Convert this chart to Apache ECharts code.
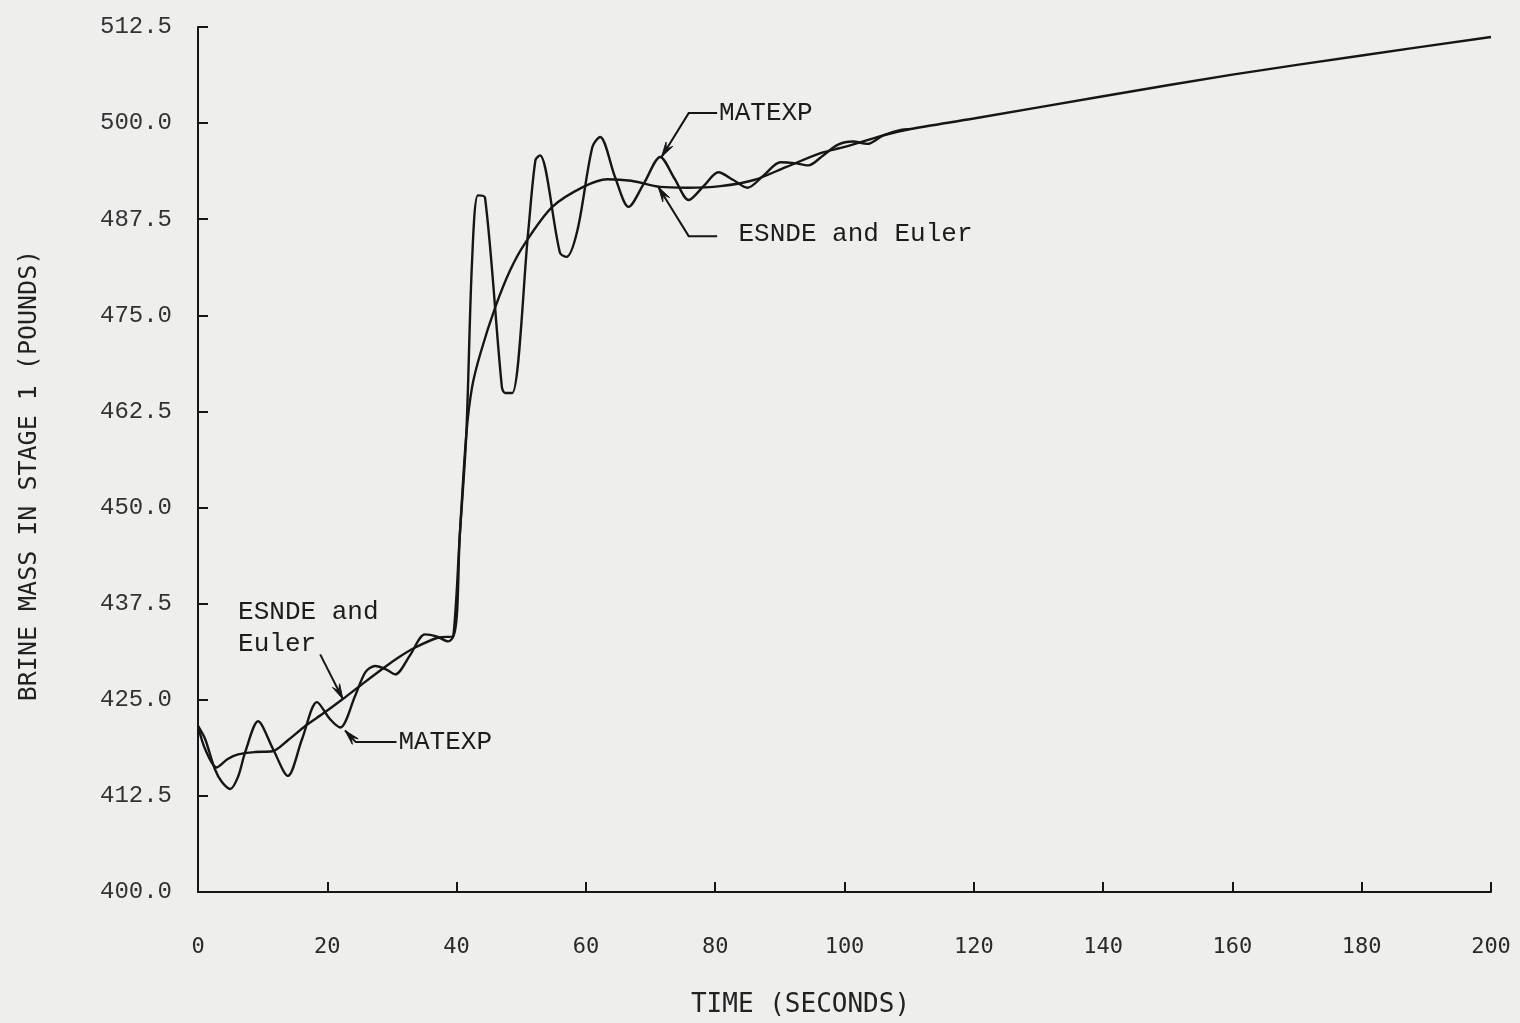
<!DOCTYPE html>
<html>
<head>
<meta charset="utf-8">
<title>Brine mass in stage 1</title>
<script src="https://cdn.jsdelivr.net/npm/echarts@6/dist/echarts.min.js"></script>
<style>
  html, body { margin: 0; padding: 0; background: #eeeeec; }
  #chart { width: 1520px; height: 1023px; }
</style>
</head>
<body>
<div id="chart"></div>
<script>
// ESNDE and Euler solution (smooth response)
const esndeTime = [0, 1.1, 2.9, 4.6, 6.2, 8.8, 11.5, 14, 16.6, 19.5, 22.4, 25.5, 28.5, 31, 33.6, 37.2, 39.5,
  40.5, 41.5, 42.4, 43.7, 46, 48.3, 50.6, 54.8, 59.6, 63.3, 67, 71.5, 75.7, 80.8, 86, 91, 96.3, 100, 106, 110,
  120, 140, 160, 180, 200];
const esndeMass = [421.6, 418.6, 416.2, 417.3, 417.9, 418.2, 418.3, 419.8, 421.6, 423.3, 425.1, 427.1, 429.0, 430.5, 431.8, 433.1, 433.3,
  446.5, 459.5, 465.7, 470.1, 476.1, 480.9, 484.4, 489.1, 491.7, 492.7, 492.5, 491.7, 491.6, 491.8, 492.6, 494.3, 496.1, 496.9, 498.4, 499.2,
  500.6, 503.5, 506.3, 508.8, 511.2];

// MATEXP solution (oscillating response)
const matexpTime = [0, 1.1, 2.6, 3.7, 5.0, 6.2, 7.3, 9.3, 11.6, 13.9, 16.1, 18.4, 20.4, 22.0, 24.3, 25.9, 27.4, 29, 30.5,
  32.8, 35.1, 37, 38.7, 39.5, 40.5, 41.5, 42.4, 43.3, 44.4, 47.0, 47.5, 48.6, 51.1, 52.2, 52.9, 56.0, 57.0, 58.7, 61.0,
  62.2, 64.5, 66.6, 69, 71.5, 73.7, 75.9, 78.2, 80.5, 82.8, 85.0, 87.5, 90.1, 92.2, 94.4, 96.7, 99, 101.3, 103.5, 106, 108.7, 110];
const matexpMass = [421.6, 419.9, 416.0, 414.3, 413.4, 415.0, 418.2, 422.2, 418.6, 415.1, 419.9, 424.7, 422.5, 421.4, 425.5, 428.6, 429.4, 429.0, 428.3,
  430.8, 433.5, 433.2, 432.6, 433.3, 446.5, 459.5, 482.2, 490.6, 490.3, 465.7, 464.9, 464.9, 486.1, 495.2, 495.8, 483.1, 482.6, 486.1, 496.9,
  498.2, 493.0, 489.1, 492.2, 495.6, 492.8, 490.0, 491.8, 493.6, 492.6, 491.6, 493.2, 494.9, 494.8, 494.5, 495.8, 497.2, 497.6, 497.3, 498.4, 499.1, 499.2];

// Axis ranges
const timeMin = 0, timeMax = 200, timeStep = 20;
const massMin = 400, massMax = 512.5, massStep = 12.5;

// Callouts: text position, leader path and arrow tip, all in (time, mass)
const callouts = [
  { lines: ['ESNDE and', 'Euler'], at: [6.2, 436.4], path: [[18.9, 430.9], [22.4, 425.1]] },
  { lines: ['MATEXP'], at: [31.0, 419.5], path: [[30.7, 419.5], [24.4, 419.5], [22.75, 421.0]] },
  { lines: ['MATEXP'], at: [80.6, 501.3], path: [[80.3, 501.3], [75.9, 501.3], [71.7, 495.6]] },
  { lines: ['ESNDE and Euler'], at: [83.6, 485.6], path: [[80.3, 485.3], [75.9, 485.3], [71.2, 491.7]] }
];

const ink = '#161616';
const mono = '"Liberation Mono", "DejaVu Sans Mono", monospace';
const narrow = '"DejaVu Sans Mono", "Liberation Mono", monospace';

const zip = (xs, ys) => xs.map((x, i) => [x, ys[i]]);

const chart = echarts.init(document.getElementById('chart'), null, { renderer: 'canvas' });

chart.setOption({
  backgroundColor: '#eeeeec',
  animation: false,
  grid: { left: 198, right: 29, top: 27, bottom: 130, containLabel: false },
  xAxis: {
    type: 'value',
    min: timeMin, max: timeMax, interval: timeStep,
    name: 'TIME (SECONDS)',
    nameLocation: 'middle',
    nameGap: 100,
    nameTextStyle: { fontFamily: narrow, fontSize: 26, color: '#222', padding: [0, 88, 0, 0] },
    axisLine: { show: true, onZero: false, lineStyle: { color: ink, width: 2 } },
    axisTick: { show: true, inside: true, length: 10, lineStyle: { color: ink, width: 2 } },
    axisLabel: { margin: 44, fontFamily: narrow, fontSize: 22, color: '#2a2a2a' },
    splitLine: { show: false }
  },
  yAxis: {
    type: 'value',
    min: massMin, max: massMax, interval: massStep,
    name: 'BRINE MASS IN STAGE 1 (POUNDS)',
    nameLocation: 'middle',
    nameGap: 156,
    nameTextStyle: { fontFamily: narrow, fontSize: 25, color: '#222', padding: [0, 32, 0, 0] },
    axisLine: { show: true, onZero: false, lineStyle: { color: ink, width: 2 } },
    axisTick: { show: true, inside: true, length: 10, lineStyle: { color: ink, width: 2 } },
    axisLabel: {
      margin: 26, fontFamily: mono, fontSize: 24, color: '#333',
      formatter: v => v.toFixed(1)
    },
    splitLine: { show: false }
  },
  series: [
    {
      name: 'ESNDE and Euler',
      type: 'line',
      data: zip(esndeTime, esndeMass),
      showSymbol: false,
      smooth: 0.3,
      lineStyle: { color: ink, width: 2.4 },
      z: 3
    },
    {
      name: 'MATEXP',
      type: 'line',
      data: zip(matexpTime, matexpMass),
      showSymbol: false,
      smooth: 0.3,
      lineStyle: { color: ink, width: 2.4 },
      z: 3
    }
  ]
});

// Callout text and leader arrows, placed through the grid's own coordinate system
function px(p) { return chart.convertToPixel({ gridIndex: 0 }, p); }

const graphics = [];
callouts.forEach(c => {
  const pos = px(c.at);
  c.lines.forEach((line, i) => {
    graphics.push({
      type: 'text',
      z: 10,
      style: {
        text: line,
        x: pos[0],
        y: pos[1] + i * 32,
        font: '26px ' + mono,
        fill: '#1c1c1c',
        textAlign: 'left',
        textVerticalAlign: 'middle'
      }
    });
  });
  const pts = c.path.map(px);
  graphics.push({
    type: 'polyline',
    z: 10,
    shape: { points: pts },
    style: { stroke: ink, lineWidth: 2, fill: null }
  });
  // barbed arrowhead at the tip
  const tip = pts[pts.length - 1], prev = pts[pts.length - 2];
  const dx = tip[0] - prev[0], dy = tip[1] - prev[1];
  const len = Math.hypot(dx, dy);
  const ux = dx / len, uy = dy / len, nx = -uy, ny = ux;
  const L = 15, W = 4;
  graphics.push({
    type: 'polygon',
    z: 10,
    shape: { points: [
      [tip[0] - L * ux + W * nx, tip[1] - L * uy + W * ny],
      tip,
      [tip[0] - L * ux - W * nx, tip[1] - L * uy - W * ny],
      [tip[0] - 0.6 * L * ux, tip[1] - 0.6 * L * uy]
    ] },
    style: { fill: ink, stroke: ink, lineWidth: 1 }
  });
});

chart.setOption({ graphic: graphics });
</script>
</body>
</html>
